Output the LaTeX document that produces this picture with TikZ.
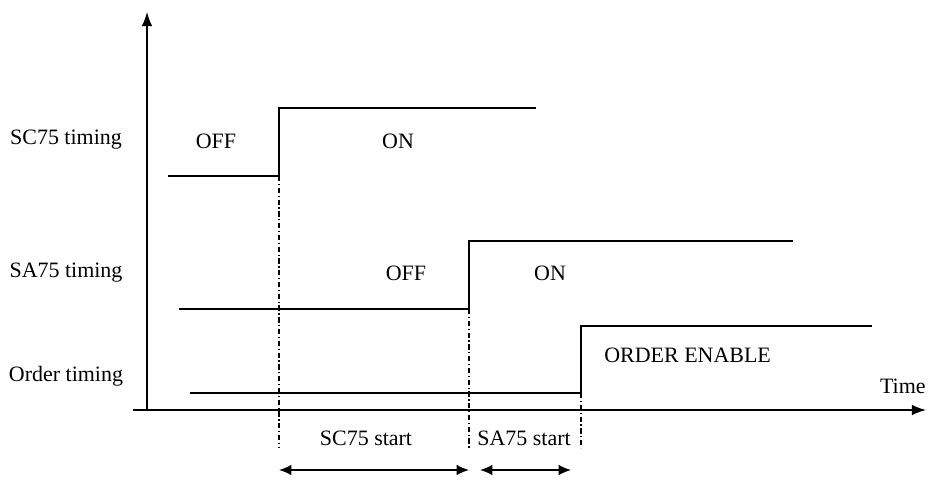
\documentclass[tikz,border=0pt]{standalone}
\usepackage{fontspec}
\setmainfont{Liberation Serif}
\usetikzlibrary{arrows.meta,positioning,calc}

\begin{document}
\begin{tikzpicture}[x=0.02cm,y=-0.02cm,
    lbl/.style={font=\fontsize{12.5}{14}\selectfont, inner sep=0pt},
    sig/.style={line width=0.6pt},
    guide/.style={line width=0.6pt, dash pattern=on 3pt off 1.5pt on 0.7pt off 1.5pt},
    span/.style={line width=0.9pt, {Latex[length=7pt,width=6pt]}-{Latex[length=7pt,width=6pt]}}]
    \useasboundingbox (0,0) rectangle (928,482);

    % Axes
    \coordinate (o) at (147,410);
    \coordinate (ytop) at (147,12);
    \coordinate (xl) at (133,410);
    \coordinate (xr) at (926,410);
    \draw[line width=0.8pt, -{Latex[length=8pt,width=6pt]}] (o) -- (ytop);
    \draw[line width=0.8pt, -{Latex[length=8pt,width=6pt]}] (xl) -- (xr);
    \node[lbl, anchor=south east] (time) at (926,394) {Time};

    % Row labels
    \node[lbl] (sclbl) at (66,140) {SC75 timing};
    \node[lbl] (salbl) at (66,273) {SA75 timing};
    \node[lbl] (ordlbl) at (66,376) {Order timing};

    % SC75 signal
    \coordinate (sc0) at (168,176);
    \coordinate (sc1) at (279,176);
    \coordinate (sc2) at (279,108);
    \coordinate (sc3) at (536,108);
    \draw[sig] (sc0) -- (sc1) -- (sc2) -- (sc3);
    \node[lbl] (scoff) at (216,141) {OFF};
    \node[lbl] (scon) at (398,141) {ON};

    % SA75 signal
    \coordinate (sa0) at (179,309);
    \coordinate (sa1) at (469,309);
    \coordinate (sa2) at (469,241);
    \coordinate (sa3) at (793,241);
    \draw[sig] (sa0) -- (sa1) -- (sa2) -- (sa3);
    \node[lbl] (saoff) at (406,273) {OFF};
    \node[lbl] (saon) at (550,273) {ON};

    % Order signal
    \coordinate (od0) at (190,393);
    \coordinate (od1) at (581,393);
    \coordinate (od2) at (581,326);
    \coordinate (od3) at (872,326);
    \draw[sig] (od0) -- (od1) -- (od2) -- (od3);
    \node[lbl, anchor=west] (enable) at (604,355) {ORDER ENABLE};

    % Guides
    \coordinate (g1) at (279,448);
    \coordinate (g2) at (469,448);
    \coordinate (g3) at (581,448);
    \draw[guide] (sc1) -- (g1);
    \draw[guide] (sa1) -- (g2);
    \draw[guide] (od1) -- (g3);

    % Spans
    \coordinate (a1) at (279,470);
    \coordinate (a2) at (469,470);
    \coordinate (a3) at (480,470);
    \coordinate (a4) at (571,470);
    \draw[span] (a1) -- (a2);
    \draw[span] (a3) -- (a4);
    \node[lbl] (scstart) at (366,438) {SC75 start};
    \node[lbl] (sastart) at (524,438) {SA75 start};

\end{tikzpicture}
\end{document}
